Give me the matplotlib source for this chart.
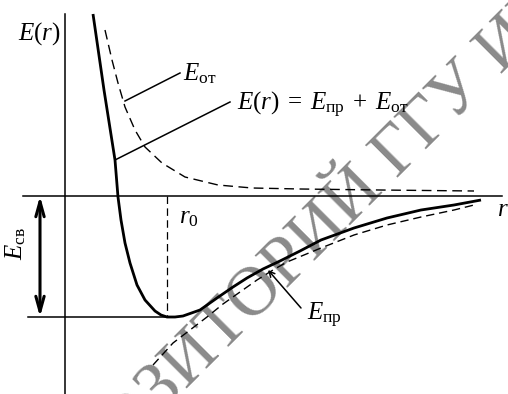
import matplotlib
matplotlib.use("Agg")
import matplotlib.pyplot as plt

plt.rcParams['mathtext.fontset'] = 'custom'
plt.rcParams['mathtext.rm'] = 'Liberation Serif'
plt.rcParams['mathtext.it'] = 'Liberation Serif:italic'
plt.rcParams['font.family'] = 'Liberation Serif'

# total energy E(r)
r_total = [0.28, 0.39, 0.50, 0.53, 0.56, 0.60, 0.65, 0.72, 0.80, 0.90, 0.96,
           1.02, 1.10, 1.18, 1.35, 1.52, 1.68, 1.82, 1.98, 2.15, 2.35, 2.56,
           2.89, 3.22, 3.56, 3.89, 4.16]
e_total = [1.82, 1.06, 0.36, -0.01, -0.24, -0.47, -0.67, -0.89, -1.04, -1.15,
           -1.19, -1.21, -1.21, -1.20, -1.14, -1.02, -0.91, -0.82, -0.73, -0.65,
           -0.55, -0.44, -0.32, -0.22, -0.14, -0.09, -0.04]

# repulsion energy E_от
r_rep = [0.40, 0.47, 0.53, 0.60, 0.70, 0.80, 0.97, 1.20, 1.53, 1.87, 2.35, 3.15, 4.09]
e_rep = [1.66, 1.36, 1.13, 0.89, 0.66, 0.49, 0.33, 0.19, 0.11, 0.08, 0.07, 0.06, 0.05]

# attraction energy E_пр
r_att = [0.88, 0.98, 1.08, 1.25, 1.42, 1.58, 1.75, 1.92, 2.08, 2.22, 2.56,
         2.89, 3.22, 3.56, 3.89, 4.09]
e_att = [-1.69, -1.58, -1.47, -1.34, -1.21, -1.08, -0.96, -0.84, -0.74, -0.66,
         -0.52, -0.39, -0.29, -0.21, -0.14, -0.09]

r0 = 1.02
e_min = -1.21

fig = plt.figure(figsize=(5.08, 3.94), dpi=100)
ax = fig.add_axes([0, 0, 1, 1])
ax.set_xlim(-0.65, 4.43)
ax.set_ylim(-1.98, 1.96)
ax.axis('off')

dash = (0, (6, 3.5))
fs = 18

# axes
ax.plot([-0.42, 4.37], [0, 0], color='black', lw=1.1)
ax.plot([0, 0], [1.82, -2.1], color='black', lw=1.1)
ax.plot([-0.37, r0], [e_min, e_min], color='black', lw=1.1)
ax.plot([r0, r0], [0, e_min], color='black', lw=0.9, linestyle=dash)

# curves
ax.plot(r_total, e_total, color='black', lw=2.0, solid_capstyle='butt',
        solid_joinstyle='round', zorder=5)
ax.plot(r_rep, e_rep, color='black', lw=1.0, linestyle=(0, (7, 4)), zorder=4)
ax.plot(r_att, e_att, color='black', lw=1.0, linestyle=dash, zorder=4)

# binding energy arrow
ax.annotate('', xy=(-0.25, 0), xytext=(-0.25, e_min),
            arrowprops=dict(arrowstyle='<->, head_length=0.9, head_width=0.25',
                            lw=2.2, color='black', shrinkA=0, shrinkB=0,
                            mutation_scale=12))
ax.text(-0.49, -0.47, r'$E_{\mathrm{св}}$', rotation=90, fontsize=fs,
        ha='center', va='center')

# leader lines and labels
ax.plot([r_rep[3], 1.15], [e_rep[3] + 0.06, 1.23], color='black', lw=1.1)
ax.text(1.18, 1.16, r'$E_{\mathrm{от}}$', fontsize=fs, va='baseline')

ax.plot([r_total[2], 1.65], [e_total[2], 0.94], color='black', lw=1.1)
ax.text(1.72, 0.86, r'$E(r)\;=\;E_{\mathrm{пр}}\;+\;E_{\mathrm{от}}$',
        fontsize=fs, va='baseline')

ax.annotate('', xy=(r_att[8] - 0.05, e_att[8]), xytext=(2.36, -1.12),
            arrowprops=dict(arrowstyle='->, head_length=0.4, head_width=0.2',
                            lw=1.1, color='black', shrinkA=0, shrinkB=0,
                            mutation_scale=10))
ax.text(2.42, -1.24, r'$E_{\mathrm{пр}}$', fontsize=fs, va='baseline')

ax.text(-0.47, 1.56, r'$E(r)$', fontsize=fs, va='baseline')
ax.text(1.14, -0.27, r'$r_0$', fontsize=fs, va='baseline')
ax.text(4.32, -0.20, r'$r$', fontsize=fs, va='baseline')

# repository watermark
wm = dict(rotation=45, rotation_mode='anchor', fontsize=50, color='#8a8a8a',
          va='baseline', zorder=1, family='Liberation Serif')
ax.text(0.965, -2.185, 'ЗИТОРИЙ ГГУ ИМЕНИ Ф. СКОРИНЫ', ha='left', **wm)
ax.text(0.965, -2.185, 'РЕПО', ha='right', **wm)

fig.savefig('out.png', dpi=100)
